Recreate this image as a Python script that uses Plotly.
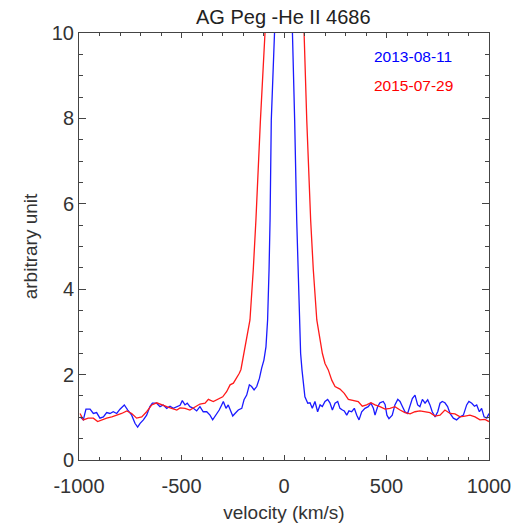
import plotly.graph_objects as go

# 2013-08-11 (blue)
v_2013 = [-995, -979, -966, -946, -930, -914, -898, -881, -865, -849, -833, -816, -800, -779, -762,
          -743, -727, -714, -702, -686, -670, -654, -642, -621, -605, -589, -572, -556, -540, -523,
          -507, -496, -483, -472, -459, -442, -426, -410, -394, -377, -361, -348, -332, -316, -304,
          -296, -283, -272, -260, -250, -239, -223, -206, -195, -182, -169, -158, -146, -133, -120,
          -109, -98, -88, -80, -73, -68, -62, -52, -40, -15, 0, 20, 42, 52, 62, 68, 75, 81, 88, 94,
          102, 116, 127, 138, 151, 164, 176, 187, 200, 213, 224, 236, 249, 262, 273, 285, 294, 306,
          317, 330, 343, 355, 366, 379, 395, 411, 424, 436, 444, 457, 468, 484, 493, 502, 512, 528,
          541, 555, 566, 577, 590, 603, 615, 626, 639, 652, 663, 675, 688, 701, 712, 723, 737, 750,
          761, 772, 785, 798, 810, 826, 842, 859, 875, 891, 902, 916, 929, 940, 953, 964, 976, 989, 1000]
f_2013 = [1.01, 0.94, 1.19, 1.19, 1.09, 1.11, 0.98, 1.01, 1.11, 1.09, 1.13, 1.09, 1.19, 1.29, 1.17,
          1.05, 0.86, 0.77, 0.86, 0.94, 1.05, 1.25, 1.33, 1.33, 1.25, 1.29, 1.21, 1.26, 1.21, 1.25,
          1.28, 1.39, 1.29, 1.33, 1.25, 1.21, 1.15, 1.25, 1.13, 1.13, 1.05, 0.94, 1.05, 1.17, 1.29,
          1.37, 1.21, 1.29, 1.15, 1.03, 1.09, 1.17, 1.21, 1.41, 1.52, 1.76, 1.72, 1.64, 1.72, 1.91,
          2.15, 2.34, 2.65, 3.28, 4.45, 5.62, 7.96, 10.0, 12.5, 15.5, 16.0, 14.0, 10.0, 7.96, 5.62, 4.45, 3.28, 2.5, 2.1, 1.80,
          1.48, 1.33, 1.34, 1.21, 1.37, 1.13, 1.29, 1.25, 1.37, 1.42, 1.34, 1.17, 1.33, 1.37, 1.21, 1.17, 1.15, 1.05,
          1.15, 1.13, 1.21, 1.05, 0.94, 1.13, 1.21, 1.25, 1.33, 1.21, 1.05, 1.25, 1.34, 1.37, 1.30, 1.05, 0.97, 1.05,
          1.29, 1.42, 1.37, 1.26, 1.13, 1.09, 1.29, 1.44, 1.52, 1.29, 1.25, 1.42, 1.33, 1.41, 1.29, 1.13, 1.01, 1.13,
          1.33, 1.37, 1.34, 1.25, 1.09, 0.98, 0.94, 1.01, 1.05, 1.29, 1.37, 1.33, 1.26, 1.29, 1.13, 1.21, 1.01, 0.98, 1.09]

# 2015-07-29 (red)
v_2015 = [-995, -979, -955, -930, -909, -889, -865, -840, -816, -792, -767, -743, -719, -694, -670,
          -645, -621, -597, -572, -548, -523, -507, -483, -459, -434, -410, -385, -369, -345, -320,
          -299, -280, -263, -247, -231, -218, -210, -195, -185, -166, -150, -137, -115, -96, -60, 0,
          60, 98, 111, 130, 143, 160, 176, 187, 200, 216, 233, 249, 273, 294, 314, 338, 362, 382,
          403, 424, 444, 468, 493, 517, 541, 566, 590, 615, 639, 663, 688, 712, 737, 761, 785, 810,
          834, 859, 883, 907, 932, 956, 980, 1000]
f_2015 = [1.09, 0.94, 0.98, 0.98, 0.90, 0.94, 0.98, 1.01, 1.05, 1.09, 1.15, 1.09, 0.98, 1.01, 1.13,
          1.29, 1.34, 1.29, 1.25, 1.21, 1.17, 1.22, 1.21, 1.17, 1.25, 1.31, 1.33, 1.42, 1.37, 1.44,
          1.48, 1.60, 1.76, 1.80, 1.91, 2.03, 2.12, 2.50, 2.81, 3.28, 4.45, 5.62, 7.96, 10.0, 13.0, 14.0,
          13.0, 10.0, 7.96, 5.62, 4.45, 3.28, 2.81, 2.50, 2.26, 2.11, 1.87, 1.72, 1.66, 1.56, 1.42, 1.39, 1.37, 1.26,
          1.29, 1.34, 1.29, 1.25, 1.19, 1.21, 1.25, 1.17, 1.11, 1.08, 1.13, 1.15, 1.13, 1.11, 1.03, 1.05, 1.17, 1.09,
          1.08, 1.01, 1.03, 1.05, 1.01, 0.94, 0.95, 0.90]

labels = ["2013-08-11", "2015-07-29"]
colors = ["#1a1aff", "#ff1a1a"]
x_ticks = [-1000, -500, 0, 500, 1000]
x_ticktext = ["-1000", "-500", "0", "500", "1000"]
y_ticks = [0, 2, 4, 6, 8, 10]

fig = go.Figure()
fig.add_trace(go.Scatter(x=v_2013, y=f_2013, mode="lines", line=dict(color=colors[0], width=1.3), name=labels[0]))
fig.add_trace(go.Scatter(x=v_2015, y=f_2015, mode="lines", line=dict(color=colors[1], width=1.3), name=labels[1]))

font_family = "Liberation Sans, Arial, sans-serif"
axcol = "#444"

fig.update_layout(
    width=528, height=531,
    margin=dict(l=79, r=39, t=33, b=71),
    paper_bgcolor="white", plot_bgcolor="white",
    showlegend=False,
    font=dict(family=font_family, color="#333", size=20),
    title=dict(text="AG Peg -He II 4686", x=0.5365, xanchor="center", y=0.968, yanchor="middle",
               font=dict(size=20, color="#222")),
)
fig.update_xaxes(
    range=[-1000, 1000], tickvals=x_ticks, ticktext=x_ticktext,
    ticks="inside", ticklen=5, tickcolor=axcol, showline=True, linecolor=axcol, linewidth=1,
    mirror="allticks", showgrid=False, zeroline=False,
    minor=dict(dtick=100, ticks="inside", ticklen=3, tickcolor=axcol, showgrid=False),
    tickfont=dict(size=20, color="#333"), ticklabelstandoff=8,
    title=dict(text="velocity (km/s)", font=dict(size=19, color="#333"), standoff=9),
)
fig.update_yaxes(
    range=[0, 10], tickvals=y_ticks,
    ticks="inside", ticklen=7, tickcolor=axcol, showline=True, linecolor=axcol, linewidth=1,
    mirror="allticks", showgrid=False, zeroline=False,
    minor=dict(dtick=0.5, ticks="inside", ticklen=4, tickcolor=axcol, showgrid=False),
    tickfont=dict(size=20, color="#333"),
    title=dict(text="arbitrary unit", font=dict(size=19, color="#333"), standoff=9),
)
fig.add_annotation(x=429, y=9.44, xref="x", yref="y", text=labels[0], showarrow=False,
                   xanchor="left", yanchor="middle", font=dict(size=15.5, color="blue"))
fig.add_annotation(x=429, y=8.78, xref="x", yref="y", text=labels[1], showarrow=False,
                   xanchor="left", yanchor="middle", font=dict(size=15.5, color="red"))

fig.write_html("out.html")
